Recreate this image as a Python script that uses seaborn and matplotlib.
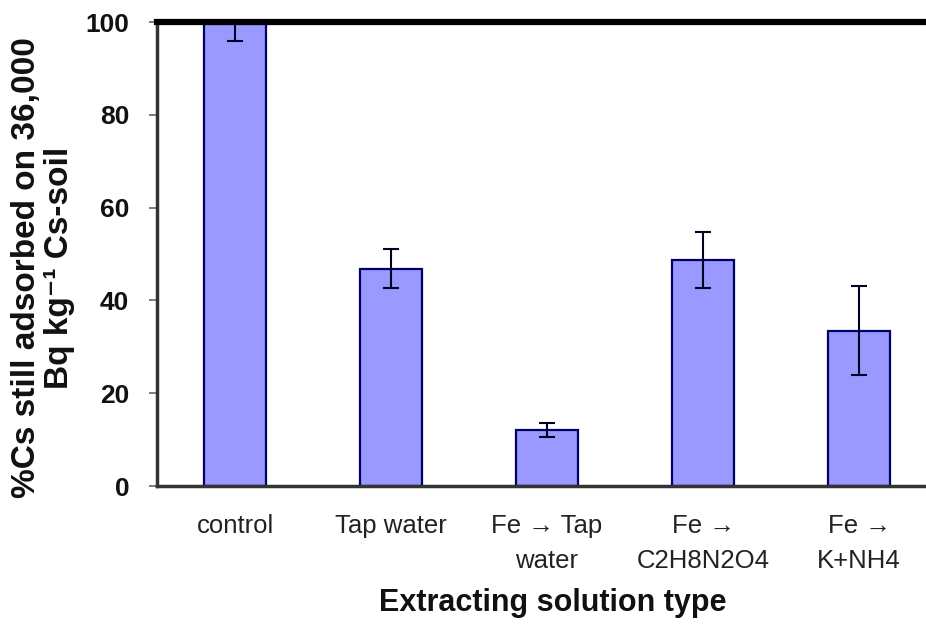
import matplotlib
matplotlib.use("Agg")
import matplotlib.pyplot as plt
import seaborn as sns
import pandas as pd
import numpy as np

categories = ["control", "Tap water", "Fe \u2192 Tap\nwater", "Fe \u2192\nC2H8N2O4", "Fe \u2192\nK+NH4"]
values = [100.0, 46.8, 12.1, 48.7, 33.5]
errors = [4.2, 4.2, 1.5, 6.0, 9.5]
y_ticks = [0, 20, 40, 60, 80, 100]

sns.set_theme(style="white")
plt.rcParams['font.family'] = ['Liberation Sans', 'DejaVu Sans']

df = pd.DataFrame({"cat": categories, "val": values, "err": errors})

fig = plt.figure(figsize=(9.26, 6.29), dpi=100)
ax = fig.add_axes([157/926, 1-486/629, 780/926, 464/629])

sns.barplot(data=df, x="cat", y="val", color="#9999ff", edgecolor="#000066",
            linewidth=1.6, width=0.4, saturation=1, errorbar=None, ax=ax)

xpos = np.arange(len(categories))
ax.errorbar(xpos, df["val"], yerr=df["err"], fmt="none", ecolor="#000022",
            elinewidth=1.5, capsize=5.5, capthick=1.5, zorder=5, clip_on=True)

ax.set_xlim(-0.5, len(categories) - 0.5)
ax.set_ylim(0, 100)
ax.set_yticks(y_ticks)
ax.set_yticklabels([str(t) for t in y_ticks], fontsize=19, fontweight="bold", color="#111111")
ax.set_xticks(xpos)
ax.set_xticklabels(categories, fontsize=18.5, color="#222222", linespacing=1.6)
ax.set_xticks(np.arange(-0.5, len(categories), 1.0), minor=True)
ax.tick_params(axis="x", which="major", length=0, pad=20)
ax.tick_params(axis="x", which="minor", length=7, width=1.2, color="#666666", direction="out")
ax.tick_params(axis="y", which="major", length=6, width=1.2, color="#666666", direction="out", pad=14, left=True)

for side in ["left", "bottom"]:
    ax.spines[side].set_linewidth(2.5)
    ax.spines[side].set_color("#333333")
ax.spines["top"].set_linewidth(4.5)
ax.spines["top"].set_color("#000000")
ax.spines["right"].set_visible(False)

ax.set_xlabel("")
ax.set_ylabel("")
fig.text(553/926, 1-603/629, "Extracting solution type", fontsize=22, fontweight="bold",
         ha="center", va="center", color="#111111")
fig.text(43/926, 1-268/629, "%Cs still adsorbed on 36,000\nBq kg\u207b\u00b9 Cs-soil",
         fontsize=24, fontweight="bold", rotation=90, ha="center", va="center",
         linespacing=1.05, color="#111111")

fig.savefig("out.png", dpi=100)
